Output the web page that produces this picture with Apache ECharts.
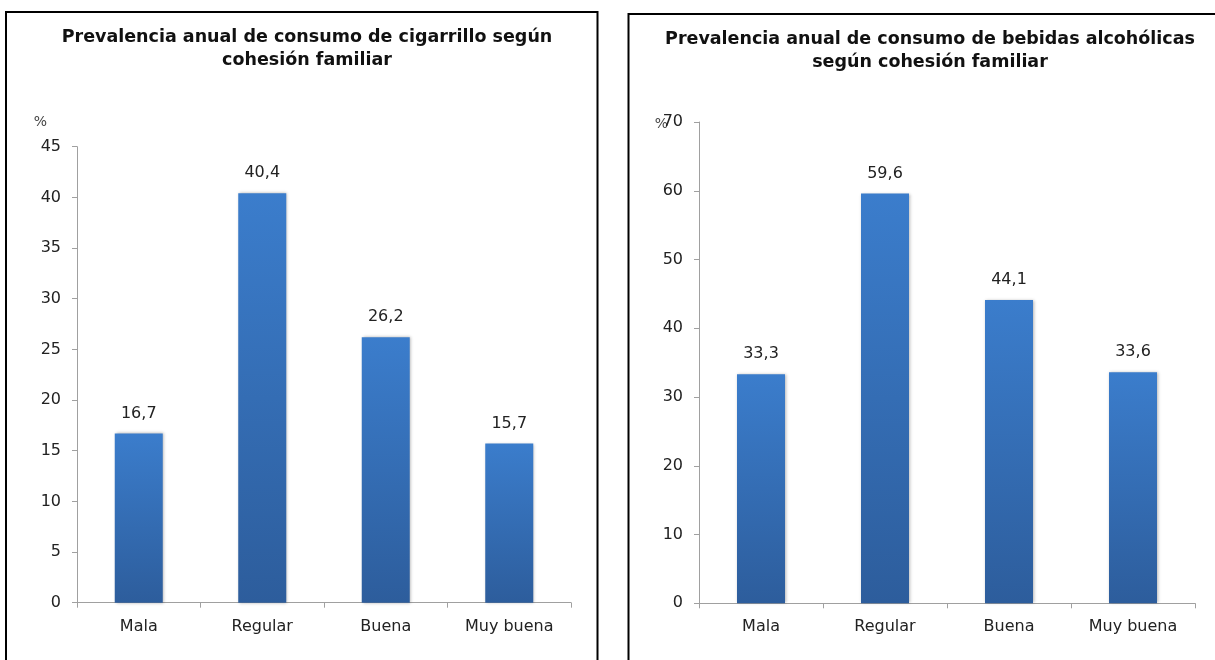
<!DOCTYPE html>
<html>
<head>
<meta charset="utf-8">
<script src="https://cdn.jsdelivr.net/npm/echarts@6/dist/echarts.min.js"></script>
<style>
html,body{margin:0;padding:0;background:#fff;}
#c{width:1215px;height:660px;}
</style>
</head>
<body>
<div id="c"></div>
<script>
const categories = ['Mala', 'Regular', 'Buena', 'Muy buena'];
const cigarrilloValues = [16.7, 40.4, 26.2, 15.7];
const alcoholValues = [33.3, 59.6, 44.1, 33.6];
const titleLeft = 'Prevalencia anual de consumo de cigarrillo según\ncohesión familiar';
const titleRight = 'Prevalencia anual de consumo de bebidas alcohólicas\nsegún cohesión familiar';
const yLeft = {min: 0, max: 45, interval: 5};
const yRight = {min: 0, max: 70, interval: 10};

const FONT = 'DejaVu Sans';
const barColor = new echarts.graphic.LinearGradient(0, 0, 0, 1, [
  {offset: 0, color: '#3b7dcc'},
  {offset: 1, color: '#2d5d9c'}
]);
const fmt = v => v.toFixed(1).replace('.', ',');

function xAxis(gi) {
  return {
    type: 'category', gridIndex: gi, data: categories,
    axisLine: {lineStyle: {color: '#a0a0a0', width: 1}},
    axisTick: {show: true, alignWithLabel: false, length: 5, lineStyle: {color: '#a0a0a0'}},
    axisLabel: {color: '#222', fontFamily: FONT, fontSize: 16, margin: 16}
  };
}
function yAxis(gi, s, gapName, padRight) {
  return {
    type: 'value', gridIndex: gi, min: s.min, max: s.max, interval: s.interval,
    name: '%', nameLocation: 'end', nameGap: gapName, nameMoveOverlap: false,
    nameTextStyle: {color: '#444', fontFamily: FONT, fontSize: 14, align: 'right', verticalAlign: 'middle', padding: [0, padRight, 0, 0]},
    axisLine: {show: true, lineStyle: {color: '#a0a0a0', width: 1}},
    axisTick: {show: true, length: 5, lineStyle: {color: '#a0a0a0'}},
    axisLabel: {color: '#222', fontFamily: FONT, fontSize: 16, margin: 16},
    splitLine: {show: false}
  };
}
function bar(gi, vals) {
  return {
    type: 'bar', xAxisIndex: gi, yAxisIndex: gi, data: vals, barWidth: 48,
    itemStyle: {color: barColor, shadowBlur: 3, shadowColor: 'rgba(0,0,0,0.3)', shadowOffsetX: 1, shadowOffsetY: 0},
    label: {show: true, position: 'top', distance: 12, color: '#222', fontFamily: FONT, fontSize: 16, formatter: p => fmt(p.value)}
  };
}

const chart = echarts.init(document.getElementById('c'), null, {renderer: 'canvas'});
chart.setOption({
  backgroundColor: '#fff',
  animation: false,
  title: [
    {text: titleLeft, left: 302, top: 21, textAlign: 'center',
     textStyle: {fontFamily: FONT, fontWeight: 'bold', fontSize: 17.5, color: '#111', lineHeight: 23}},
    {text: titleRight, left: 925, top: 23, textAlign: 'center',
     textStyle: {fontFamily: FONT, fontWeight: 'bold', fontSize: 17.5, color: '#111', lineHeight: 23}}
  ],
  graphic: [
    {type: 'rect', shape: {x: 6, y: 12, width: 591.5, height: 700}, style: {fill: 'none', stroke: '#000', lineWidth: 2}, z: 100},
    {type: 'rect', shape: {x: 628.5, y: 14, width: 700, height: 700}, style: {fill: 'none', stroke: '#000', lineWidth: 2}, z: 100}
  ],
  grid: [
    {left: 77, top: 146.7, width: 494, height: 456},
    {left: 699, top: 122, width: 496, height: 481.3}
  ],
  xAxis: [xAxis(0), xAxis(1)],
  yAxis: [yAxis(0, yLeft, 24, 30), yAxis(1, yRight, -2, 31)],
  series: [bar(0, cigarrilloValues), bar(1, alcoholValues)]
});
</script>
</body>
</html>
